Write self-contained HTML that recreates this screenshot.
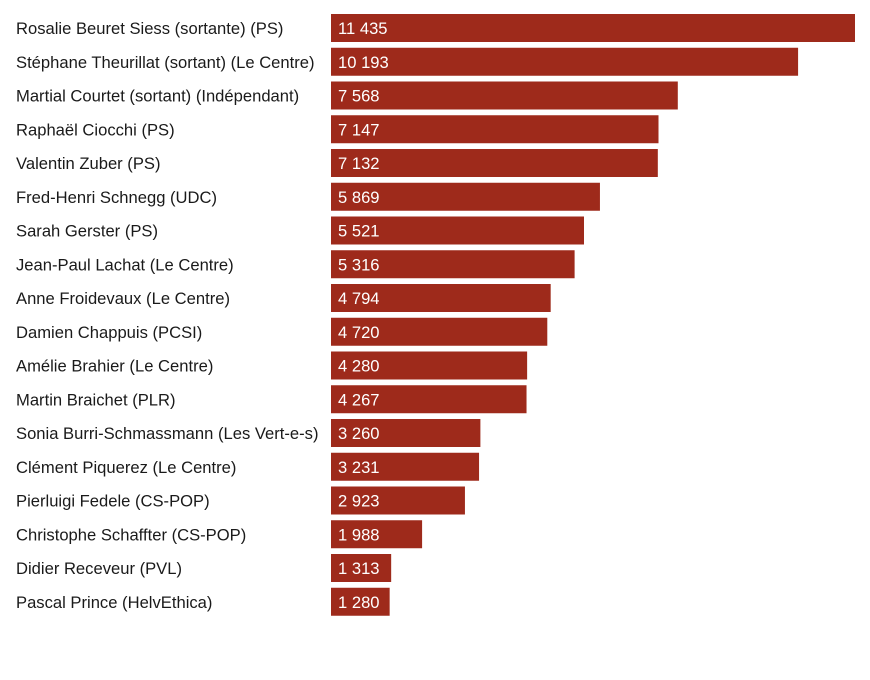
<!DOCTYPE html>
<html><head><meta charset="utf-8"><style>
body{margin:0;background:#fff;width:870px;height:675px;overflow:hidden;font-family:"Liberation Sans",sans-serif}
</style></head><body>
<svg id="chart" width="870" height="675" xmlns="http://www.w3.org/2000/svg"></svg>
<script>
const candidates=["Rosalie Beuret Siess (sortante) (PS)","Stéphane Theurillat (sortant) (Le Centre)","Martial Courtet (sortant) (Indépendant)","Raphaël Ciocchi (PS)","Valentin Zuber (PS)","Fred-Henri Schnegg (UDC)","Sarah Gerster (PS)","Jean-Paul Lachat (Le Centre)","Anne Froidevaux (Le Centre)","Damien Chappuis (PCSI)","Amélie Brahier (Le Centre)","Martin Braichet (PLR)","Sonia Burri-Schmassmann (Les Vert-e-s)","Clément Piquerez (Le Centre)","Pierluigi Fedele (CS-POP)","Christophe Schaffter (CS-POP)","Didier Receveur (PVL)","Pascal Prince (HelvEthica)"];
const votes=[11435,10193,7568,7147,7132,5869,5521,5316,4794,4720,4280,4267,3260,3231,2923,1988,1313,1280];
const svg=document.getElementById('chart');
const NS='http://www.w3.org/2000/svg';
const x0=331,x1=855,maxV=11435;
const xs=v=>x0+(x1-x0)*v/maxV;
const y0=14,step=33.75,bh=28;
const fmt=v=>String(v).replace(/\B(?=(\d{3})+(?!\d))/g,' ');
candidates.forEach((c,i)=>{
  const y=y0+i*step;
  const t=document.createElementNS(NS,'text');
  
  
  t.setAttribute('x',16);t.setAttribute('y',y+bh/2+6);
  t.setAttribute('font-size','16.6');t.setAttribute('fill','#1a1a1a');
  t.textContent=c;svg.appendChild(t);
  const r=document.createElementNS(NS,'rect');
  
  
  r.setAttribute('x',x0);r.setAttribute('y',y);
  r.setAttribute('width',xs(votes[i])-x0);r.setAttribute('height',bh);
  r.setAttribute('fill','#9e2a1b');svg.appendChild(r);
  const v=document.createElementNS(NS,'text');
  
  
  v.setAttribute('x',x0+7);v.setAttribute('y',y+bh/2+6);
  v.setAttribute('font-size','16.6');v.setAttribute('fill','#fff');
  v.textContent=fmt(votes[i]);svg.appendChild(v);
});
</script>
</body></html>
